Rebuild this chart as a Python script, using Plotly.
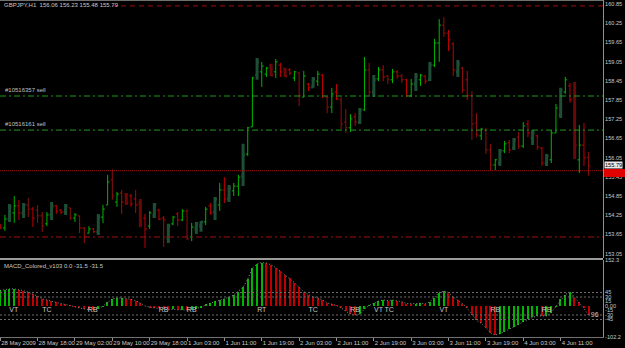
import plotly.graph_objects as go

# ---------------- data ----------------
bar_index = list(range(127))
opens = [153.94,153.85,154.13,154.32,154.54,154.32,154.57,154.44,154.41,154.23,
         153.98,154.26,154.54,154.41,154.35,154.48,154.16,154.23,153.85,153.69,
         153.82,153.73,154.19,154.57,155.35,154.66,154.94,154.88,154.85,154.76,
         154.63,154.16,153.91,154.23,154.41,154.16,153.54,153.98,154.29,154.10,
         154.38,153.57,153.82,153.91,154.04,154.54,154.35,154.57,155.04,154.76,
         155.01,155.16,155.47,156.16,157.01,158.63,158.73,158.66,158.91,158.73,
         158.94,158.82,158.79,158.54,158.69,157.94,158.35,158.26,158.44,158.63,
         157.94,157.63,158.10,157.85,157.16,156.98,157.32,157.16,157.54,158.79,
         158.10,158.51,158.79,158.60,158.48,158.73,158.60,158.48,157.98,158.35,
         158.48,158.60,158.48,158.94,159.63,160.19,159.94,159.60,158.73,158.85,
         158.48,157.98,157.13,156.73,156.91,156.29,155.82,155.88,156.26,156.51,
         156.35,156.69,156.41,157.10,156.66,156.73,156.35,155.88,155.98,156.82,
         157.38,158.10,158.29,157.91,155.98,156.44,156.06]
highs = [153.98,154.26,154.60,154.85,154.73,154.63,154.79,154.51,154.57,154.35,
         154.35,154.66,154.57,154.44,154.60,154.48,154.32,154.23,153.88,153.91,
         153.85,154.29,154.57,155.51,155.69,154.98,155.04,154.94,154.91,155.04,
         154.76,154.29,154.38,154.63,154.44,154.23,153.98,154.23,154.35,154.44,
         154.44,154.01,154.04,154.07,154.51,154.63,154.82,155.26,155.44,155.19,
         155.26,155.51,156.48,157.01,158.57,159.16,159.04,158.88,158.98,159.13,
         159.01,158.85,158.85,158.76,158.73,158.76,158.38,158.57,158.76,158.66,
         157.98,158.23,158.35,157.94,157.57,157.41,157.44,157.60,159.19,159.01,
         158.63,158.88,158.94,158.63,158.82,158.79,158.66,158.51,158.51,158.69,
         158.66,158.63,159.04,159.76,160.38,160.44,160.04,159.66,159.10,158.88,
         158.76,158.13,157.44,156.98,156.98,156.48,156.01,156.32,156.57,156.60,
         156.66,156.85,157.16,157.23,156.91,156.76,156.38,156.16,156.91,157.73,
         158.23,158.57,158.38,158.41,157.07,157.13,156.23]
lows = [153.82,153.76,154.04,154.01,154.10,154.16,154.19,153.88,154.01,153.73,
        153.91,154.10,154.29,154.29,154.26,154.10,154.04,153.69,153.38,153.69,
        153.69,153.63,154.01,154.57,154.73,154.51,154.29,154.57,154.51,154.32,
        153.88,153.23,153.82,154.16,154.10,153.26,153.38,153.94,153.91,154.07,
        153.48,153.44,153.66,153.73,153.94,154.26,154.10,154.38,154.63,154.66,
        154.85,154.85,155.16,156.10,157.01,158.48,158.26,158.57,158.60,158.54,
        158.57,158.57,158.63,158.44,157.66,157.94,158.13,158.23,158.29,157.91,
        157.44,157.44,157.85,156.94,156.82,156.85,157.04,157.10,157.51,157.98,
        157.94,158.44,158.44,158.35,158.38,158.51,158.38,157.94,157.94,158.13,
        158.29,158.35,158.44,158.88,159.04,159.82,159.38,158.60,158.57,158.07,
        157.85,156.60,156.69,156.60,156.16,155.66,155.66,155.79,156.19,156.19,
        156.29,156.32,156.35,156.69,156.44,156.29,155.79,155.79,155.88,156.82,
        157.29,158.04,157.76,156.01,155.57,155.79,155.48]
closes = [153.85,154.13,154.51,154.54,154.32,154.57,154.44,154.16,154.23,153.91,
          154.26,154.54,154.38,154.35,154.54,154.16,154.26,153.85,153.57,153.82,
          153.73,154.19,154.44,155.29,154.85,154.91,154.66,154.63,154.60,154.57,
          153.98,153.82,154.32,154.57,154.13,154.10,153.91,154.19,154.10,154.38,
          153.51,153.88,153.98,154.04,154.44,154.32,154.76,155.04,154.76,155.10,
          155.16,155.44,156.13,156.98,158.54,159.04,158.91,158.85,158.63,159.04,
          158.73,158.60,158.69,158.73,157.98,158.60,158.23,158.51,158.66,157.98,
          157.63,158.04,157.88,157.10,156.98,157.26,157.16,157.54,158.79,158.10,
          158.48,158.79,158.57,158.48,158.73,158.60,158.48,157.98,158.35,158.60,
          158.63,158.44,158.94,159.63,160.19,159.94,159.73,158.79,158.98,158.16,
          157.98,157.10,156.76,156.94,156.29,155.82,155.98,156.26,156.48,156.29,
          156.60,156.41,157.04,156.82,156.82,156.38,155.88,156.10,156.82,157.60,
          158.16,158.48,157.85,156.44,156.44,156.04,155.79]
highlight_bars = [2,5,11,14,21,27,30,33,36,42,43,46,49,52,55,58,61,67,77,80,
                  89,92,98,107,110,114,117,120,123]
dotted_bars = [6,8,9,15,18,24,40,64,70,73,74,79,83,86,95,99,101,102,104,105,111,126]

macd = [52,55,57,57,55,51,46,40,33,24,19,16,12,8,5,1,-2,-6,-10,-12,
        -13,-9,-1,12,24,27,27,25,22,18,10,0,-4,-6,-8,-11,-12,-11,-13,-12,
        -14,-12,-9,-4,4,9,16,21,24,29,37,48,62,90,126,140,145,143,137,128,
        116,104,92,78,62,48,38,31,27,20,10,5,2,-6,-18,-26,-30,-27,-10,2,
        10,16,20,18,20,18,14,8,7,8,9,7,14,28,45,50,45,30,20,8,
        -8,-30,-48,-58,-72,-90,-97,-92,-85,-78,-70,-62,-52,-44,-38,-33,-34,-33,-22,-2,
        22,38,47,28,12,-8,-31.5]
macd_levels = [45, 30, -30, -45]
signal_labels = ["VT","TC","RB","RB","RB","RT","TC","RB","VT","TC","VT","RB","RB","96"]
signal_bars = [2.9,10,19.8,35,41,56,67,76,81,83.3,95,106,117,127.3]
signal_values = [-15,-15,-15,-15,-15,-15,-15,-15,-15,-15,-15,-15,-15,-30]

time_tick_bars = [0,8,16,24,32,40,48,56,64,72,80,88,96,104,112,120]
time_tick_labels = ["28 May 2009","28 May 18:00","29 May 02:00","29 May 10:00",
                    "29 May 18:00","1 Jun 03:00","1 Jun 11:00","1 Jun 19:00",
                    "2 Jun 03:00","2 Jun 11:00","2 Jun 19:00","3 Jun 03:00",
                    "3 Jun 11:00","3 Jun 19:00","4 Jun 03:00","4 Jun 11:00"]
price_ticks = [160.85,160.25,159.65,159.05,158.45,157.85,157.25,156.65,
               156.05,155.45,154.85,154.25,153.65,153.05]
macd_ticks = [152.3,45,30,15,0,-15,-30,-45,-102.2]
macd_tick_labels = ["152.3","45","30","15","0.00","-15","-30","-45","-102.2"]

sell_levels = [157.975, 156.91]
sell_names = ["#10516357 sell", "#10516161 sell"]
bid_level = 155.64
stop_level = 153.57
top_level = 160.79
last_price = 155.79
title_text = "GBPJPY,H1  156.06 156.23 155.48 155.79"
macd_title = "MACD_Colored_v103 0.0 -31.5 -31.5"

# ---------------- styling ----------------
W, H = 625, 348
PLOT_R = 603
MAIN_TOP, MAIN_BOT = 0, 258
SUB_TOP, SUB_BOT = 260, 337
BG = "#000000"
TXT = "#c8c8c8"
FONT = "Liberation Sans"
FS = 6
AXFS = 5.6

GREEN = "#00b400"
RED = "#c00000"
DOT_RED = "#901010"
DK_GREEN = "#1c4f36"
DK_RED = "#6a0808"


def py(y):
    return 1 - y / H


def px(x):
    return x / W


fig = go.Figure()

groups = {"up": [], "down": [], "dot": [], "hup": [], "hdown": []}
for i in bar_index:
    up = closes[i] >= opens[i]
    if i in highlight_bars:
        groups["hup" if up else "hdown"].append(i)
    elif i in dotted_bars:
        groups["dot"].append(i)
    else:
        groups["up" if up else "down"].append(i)

style = {"up": (GREEN, 1), "down": (RED, 1), "dot": (DOT_RED, 1),
         "hup": (DK_GREEN, 3), "hdown": (DK_RED, 3)}
for key in ["hup", "hdown", "up", "down", "dot"]:
    idx = groups[key]
    if not idx:
        continue
    col, lw = style[key]
    fig.add_trace(go.Ohlc(
        x=[bar_index[i] for i in idx],
        open=[opens[i] for i in idx], high=[highs[i] for i in idx],
        low=[lows[i] for i in idx], close=[closes[i] for i in idx],
        increasing=dict(line=dict(color=col, width=lw)),
        decreasing=dict(line=dict(color=col, width=lw)),
        tickwidth=0.4, xaxis="x", yaxis="y", hoverinfo="skip", showlegend=False))

macd_colors = []
for i, v in enumerate(macd):
    prev = macd[i - 1] if i > 0 else v
    macd_colors.append(GREEN if v >= prev else RED)

fig.add_trace(go.Bar(x=bar_index, y=macd, marker=dict(color=macd_colors, line=dict(width=0)),
                     width=0.28, xaxis="x2", yaxis="y2", hoverinfo="skip", showlegend=False))
fig.add_trace(go.Scatter(x=bar_index, y=macd, mode="lines",
                         line=dict(color="#909090", width=1, dash="1px,2px"),
                         xaxis="x2", yaxis="y2", hoverinfo="skip", showlegend=False))
fig.add_trace(go.Scatter(x=signal_bars, y=signal_values, mode="text", text=signal_labels,
                         textfont=dict(family=FONT, size=7, color=TXT),
                         xaxis="x2", yaxis="y2", hoverinfo="skip", showlegend=False))

x_range = [-0.05, -0.05 + PLOT_R / 4.67]
shapes = []
for lv in sell_levels:
    shapes.append(dict(type="line", xref="x domain", x0=0, x1=1, yref="y", y0=lv, y1=lv,
                       line=dict(color="#1f9a1f", width=1, dash="6px,3px,2px,3px")))
shapes.append(dict(type="line", xref="x domain", x0=0, x1=1, yref="y", y0=bid_level, y1=bid_level,
                   line=dict(color="#a01010", width=1, dash="1px,1px")))
shapes.append(dict(type="line", xref="x domain", x0=0, x1=1, yref="y", y0=stop_level, y1=stop_level,
                   line=dict(color="#a01010", width=1, dash="6px,3px,2px,3px")))
shapes.append(dict(type="line", xref="x domain", x0=112 / PLOT_R, x1=1, yref="y", y0=top_level, y1=top_level,
                   line=dict(color="#a01010", width=1, dash="5px,4px")))
for lv in macd_levels:
    shapes.append(dict(type="line", xref="x2 domain", x0=0, x1=1, yref="y2", y0=lv, y1=lv,
                       line=dict(color="#6a6a6a", width=1, dash="2px,2px")))
# pane separator and frame
shapes.append(dict(type="line", xref="paper", x0=0, x1=px(PLOT_R), yref="paper",
                   y0=py(259), y1=py(259), line=dict(color="#9a9a9a", width=2)))
shapes.append(dict(type="line", xref="paper", x0=0, x1=px(PLOT_R), yref="paper",
                   y0=py(0.5), y1=py(0.5), line=dict(color="#707070", width=1)))
# price box on the right scale
shapes.append(dict(type="rect", xref="paper", yref="paper", x0=px(604), x1=1,
                   y0=py(177), y1=py(169), fillcolor="#e00000", line=dict(width=0)))

annotations = [
    dict(text=title_text, x=px(2), y=py(5), xref="paper", yref="paper", xanchor="left",
         yanchor="middle", showarrow=False, font=dict(family=FONT, size=FS, color=TXT)),
    dict(text=macd_title, x=px(2), y=py(266), xref="paper", yref="paper", xanchor="left",
         yanchor="middle", showarrow=False, font=dict(family=FONT, size=FS, color=TXT)),
    dict(text=str(last_price), x=px(604), y=py(165), xref="paper", yref="paper", xanchor="left",
         yanchor="middle", showarrow=False, bgcolor="#e8e8e8", borderpad=0,
         font=dict(family=FONT, size=AXFS, color="#000000")),
]
for name, lv in zip(sell_names, sell_levels):
    annotations.append(dict(text=name, x=px(3), y=lv, xref="paper", yref="y", xanchor="left",
                            yanchor="bottom", yshift=1, showarrow=False,
                            font=dict(family=FONT, size=FS, color="#b8c4cc")))

fig.update_layout(
    width=W, height=H, margin=dict(l=0, r=0, t=0, b=0, autoexpand=False),
    paper_bgcolor=BG, plot_bgcolor=BG, showlegend=False, bargap=0,
    shapes=shapes, annotations=annotations,
    xaxis=dict(domain=[0, px(PLOT_R)], range=x_range, showticklabels=False, showgrid=False,
               zeroline=False, rangeslider=dict(visible=False), anchor="y", ticks="",
               automargin=False),
    xaxis2=dict(domain=[0, px(PLOT_R)], range=x_range, matches="x", anchor="y2", showgrid=False,
                zeroline=False, tickmode="array", tickvals=time_tick_bars, ticktext=time_tick_labels,
                ticks="outside", ticklen=3, tickcolor="#909090", ticklabelposition="outside right",
                tickangle=0, automargin=False,
                tickfont=dict(family=FONT, size=FS, color=TXT), showline=True,
                linecolor="#707070", linewidth=1),
    yaxis=dict(domain=[py(MAIN_BOT), py(MAIN_TOP)], range=[152.9125, 160.975], side="right",
               anchor="x", tickmode="array", tickvals=price_ticks, automargin=False,
               ticktext=[f"{v:.2f}" for v in price_ticks], ticks="", ticklen=0,
               tickfont=dict(family=FONT, size=AXFS, color=TXT),
               showgrid=False, zeroline=False, showline=True, linecolor="#909090", linewidth=1),
    yaxis2=dict(domain=[py(SUB_BOT), py(SUB_TOP)], range=[-103.33, 153.33], side="right",
                anchor="x2", tickmode="array", tickvals=macd_ticks, ticktext=macd_tick_labels,
                ticks="", ticklen=0, automargin=False,
                tickfont=dict(family=FONT, size=AXFS, color=TXT), showgrid=False, zeroline=False,
                showline=True, linecolor="#909090", linewidth=1),
)

fig.write_html("out.html")
